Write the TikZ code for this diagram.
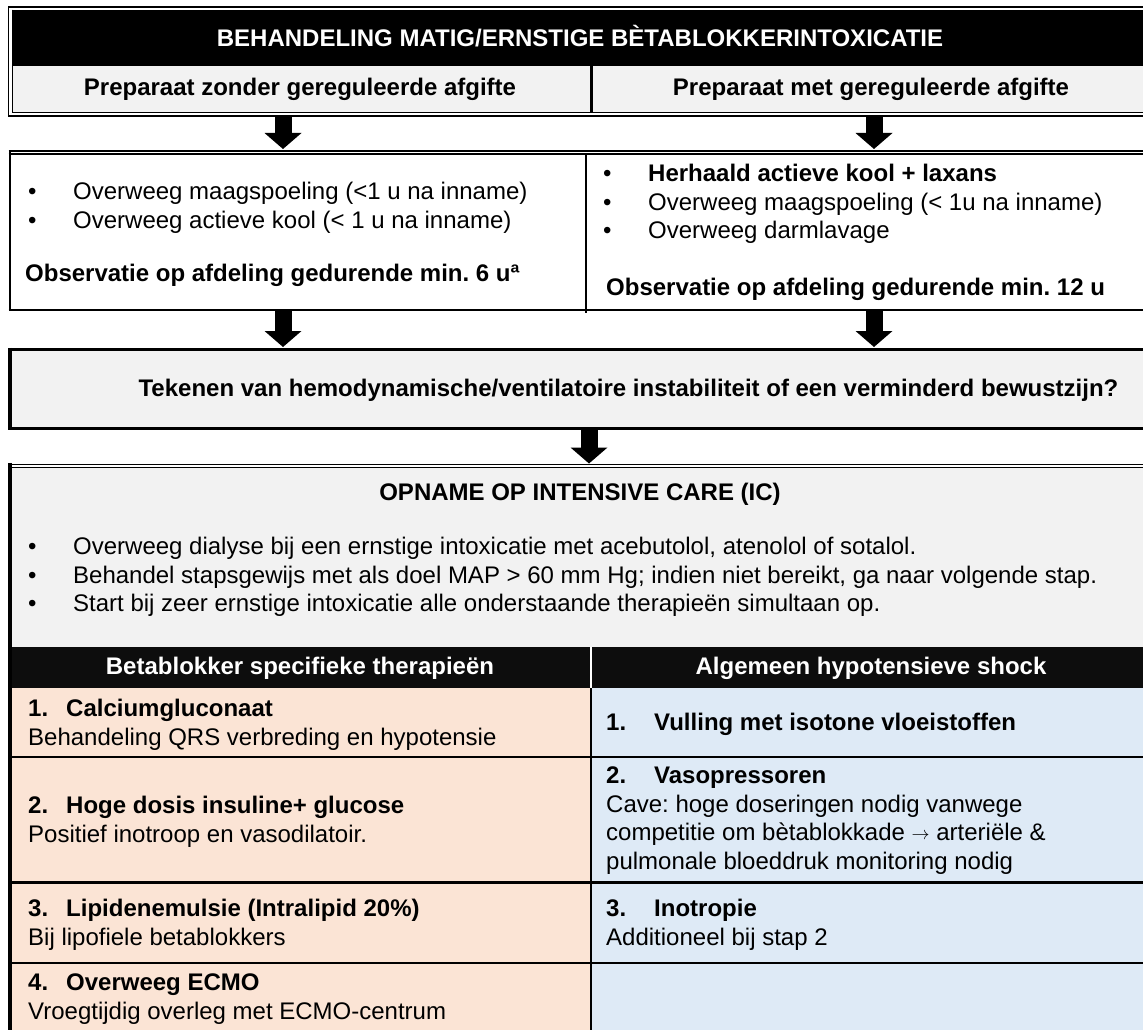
\documentclass[tikz,border=0pt]{standalone}
\usepackage{graphicx}
\usepackage{fontspec}
\setmainfont{Liberation Sans}
\usetikzlibrary{arrows.meta}
\frenchspacing

\definecolor{panel}{HTML}{F2F2F2}
\definecolor{ink}{HTML}{0D0D0D}
\definecolor{peach}{HTML}{FBE4D5}
\definecolor{paleblue}{HTML}{DEEAF6}

\newcommand{\itm}[1]{\makebox[45pt][l]{\textbullet}#1}
\newcommand{\stepL}[2]{\textbf{\makebox[38pt][l]{#1}#2}}
\newcommand{\stepR}[2]{\textbf{\makebox[48pt][l]{#1}#2}}
\newcommand{\thento}{\raisebox{1.5pt}{\resizebox{18pt}{!}{$\rightarrow$}}}

\begin{document}
\begin{tikzpicture}[x=1pt,y=-1pt]
        \tikzset{txt/.style = {inner sep=0pt, align=left, font=\fontsize{24}{28.5}\selectfont}};
        \tikzset{list/.style = {txt, anchor=north west, execute at begin node={\rule{0pt}{18pt}}}};
        \tikzset{line/.style = {txt, anchor=base west}};
        \tikzset{bline/.style = {line, font=\fontsize{24}{28.5}\selectfont\bfseries}};
        \tikzset{head/.style = {txt, anchor=base, font=\fontsize{24}{28.5}\selectfont\bfseries}};
        \tikzset{edge/.style = {line width=17pt, -{Triangle[width=37pt,length=16pt,line width=0pt]}}};
        \useasboundingbox (0,0) rectangle (1143,1030);
        \clip (0,0) rectangle (1143,1030);
        \draw[line width=1.3pt] (8.5,7) rectangle (1170,116);
        \fill[black] (12.5,9.7) rectangle (1170,66);
        \fill[panel] (12.5,66.5) rectangle (1170,112.3);
        \draw[line width=1.3pt] (12.5,9.7) -- (12.5,112.3) -- (1170,112.3);
        \draw[line width=3pt] (591,66) -- (591,112.3);
        \node[head, white] (title) at (580,46.5) {BEHANDELING MATIG/ERNSTIGE BÈTABLOKKERINTOXICATIE};
        \node[head] (sub1) at (300,96) {Preparaat zonder gereguleerde afgifte};
        \node[head] (sub2) at (871,96) {Preparaat met gereguleerde afgifte};
        \draw[line width=1.2pt] (8.5,151) -- (1170,151);
        \draw[line width=1.2pt] (8.5,154) -- (1170,154);
        \draw[line width=2.5pt] (9.8,150.4) -- (9.8,311);
        \draw[line width=2.2pt] (8.5,310) -- (1170,310);
        \draw[line width=1.5pt] (586,154) -- (586,313);
        \node[list] (opts1) at (28,182) {\itm{Overweeg maagspoeling (<1 u na inname)}\\
                \itm{Overweeg actieve kool (< 1 u na inname)}};
        \node[bline] (obs1) at (25,281) {Observatie op afdeling gedurende min. 6 uª};
        \node[list] (opts2) at (603,164) {\itm{\textbf{Herhaald actieve kool + laxans}}\\
                \itm{Overweeg maagspoeling (< 1u na inname)}\\
                \itm{Overweeg darmlavage}};
        \node[bline] (obs2) at (606,295) {Observatie op afdeling gedurende min. 12 u};
        \fill[panel] (10,349) rectangle (1170,429);
        \draw[line width=3.5pt] (8.5,349.5) -- (1170,349.5);
        \draw[line width=3.5pt] (8.5,428.5) -- (1170,428.5);
        \draw[line width=3.5pt] (10.2,347.75) -- (10.2,430.25);
        \node[head] (ask) at (628.5,396) {Tekenen van hemodynamische/ventilatoire instabiliteit of een verminderd bewustzijn?};
        \draw[line width=1.2pt] (8.5,464.5) -- (1170,464.5);
        \draw[line width=1.2pt] (8.5,467.8) -- (1170,467.8);
        \fill[panel] (10,468.4) rectangle (1170,647);
        \node[head] (ic) at (580,500.5) {OPNAME OP INTENSIVE CARE (IC)};
        \node[list] (icnotes) at (28,537) {\itm{Overweeg dialyse bij een ernstige intoxicatie met acebutolol, atenolol of sotalol.}\\
                \itm{Behandel stapsgewijs met als doel MAP > 60 mm Hg; indien niet bereikt, ga naar volgende stap.}\\
                \itm{Start bij zeer ernstige intoxicatie alle onderstaande therapieën simultaan op.}};
        \fill[ink] (11.5,647) rectangle (1170,688);
        \fill[peach] (11.5,688) rectangle (591,1040);
        \fill[paleblue] (591,688) rectangle (1170,1040);
        \draw[white, line width=1.5pt] (591,647) -- (591,688);
        \draw[line width=2pt] (591,688) -- (591,1040);
        \foreach \y in {757,882.5,963}
                \draw[line width=2.2pt] (11.5,\y) -- (1170,\y);
        \draw[line width=3.5pt] (10.2,462.75) -- (10.2,1040);
        \node[head, white] (colL) at (300,674) {Betablokker specifieke therapieën};
        \node[head, white] (colR) at (871,674) {Algemeen hypotensieve shock};
        \node[list] (calc) at (28,699) {\stepL{1.}{Calciumgluconaat}\\
                Behandeling QRS verbreding en hypotensie};
        \node[list] (insu) at (28,796) {\stepL{2.}{Hoge dosis insuline+ glucose}\\
                Positief inotroop en vasodilatoir.};
        \node[list] (lipid) at (28,899) {\stepL{3.}{Lipidenemulsie (Intralipid 20\%)}\\
                Bij lipofiele betablokkers};
        \node[list] (ecmo) at (28,974) {\stepL{4.}{Overweeg ECMO}\\
                Vroegtijdig overleg met ECMO-centrum};
        \node[list] (fluid) at (606,712) {\stepR{1.}{Vulling met isotone vloeistoffen}};
        \node[list] (vaso) at (606,767) {\stepR{2.}{Vasopressoren}\\
                Cave: hoge doseringen nodig vanwege\\
                competitie om bètablokkade \thento{} arteriële \&\\
                pulmonale bloeddruk monitoring nodig};
        \node[list] (inot) at (606,899) {\stepR{3.}{Inotropie}\\
                Additioneel bij stap 2};
        \coordinate (a1) at (283,116.5);
        \coordinate (b1) at (283,149);
        \coordinate (a2) at (874,116.5);
        \coordinate (b2) at (874,149);
        \coordinate (a3) at (283,311);
        \coordinate (b3) at (283,347);
        \coordinate (a4) at (874,311);
        \coordinate (b4) at (874,347);
        \coordinate (a5) at (589,430);
        \coordinate (b5) at (589,463.5);
        \draw[edge] (a1) to (b1);
        \draw[edge] (a2) to (b2);
        \draw[edge] (a3) to (b3);
        \draw[edge] (a4) to (b4);
        \draw[edge] (a5) to (b5);
\end{tikzpicture}
\end{document}
